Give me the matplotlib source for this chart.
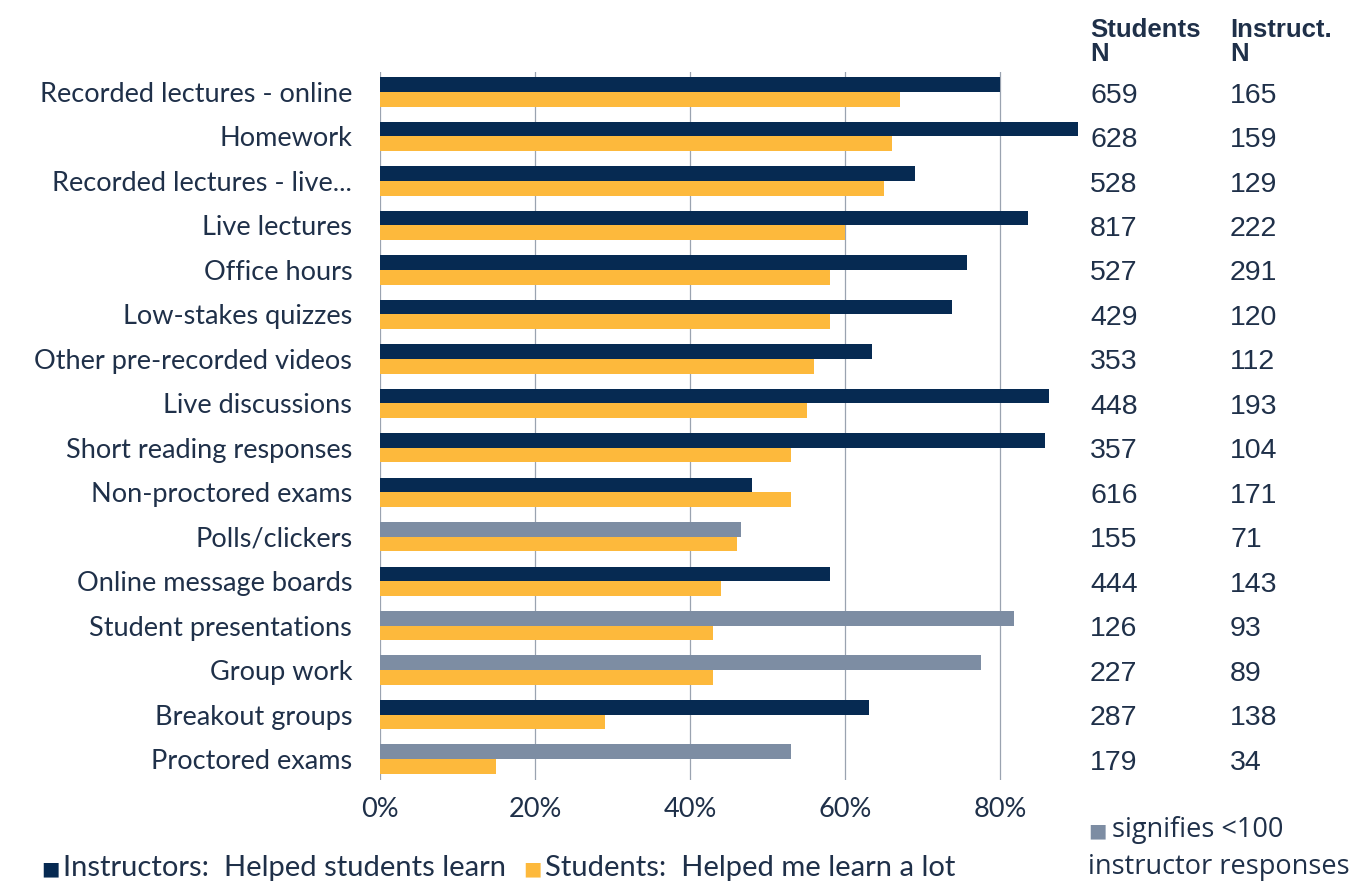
import matplotlib.pyplot as plt
import matplotlib.transforms as mtransforms
import numpy as np

## Teaching methods, ordered by student rating
methods = ["Recorded lectures - online", "Homework", "Recorded lectures - live...",
           "Live lectures", "Office hours", "Low-stakes quizzes",
           "Other pre-recorded videos", "Live discussions", "Short reading responses",
           "Non-proctored exams", "Polls/clickers", "Online message boards",
           "Student presentations", "Group work", "Breakout groups", "Proctored exams"]
instructors = [80, 90, 69, 83.5, 75.7, 73.7, 63.5, 86.3, 85.7, 48, 46.5, 58, 81.8, 77.5, 63, 53]
students = [67, 66, 65, 60, 58, 58, 56, 55, 53, 53, 46, 44, 43, 43, 29, 15]
students_n = [659, 628, 528, 817, 527, 429, 353, 448, 357, 616, 155, 444, 126, 227, 287, 179]
instruct_n = [165, 159, 129, 222, 291, 120, 112, 193, 104, 171, 71, 143, 93, 89, 138, 34]

navy = "#062a52"
gold = "#fdb93c"
grey = "#7d8da3"
txt = "#1f3049"

fig = plt.figure(figsize=(13.57, 8.85), dpi=100)
ax = fig.add_axes([380/1357, 105/885, 698/1357, 708/885])

y = np.arange(len(methods))
inst_colors = [grey if n < 100 else navy for n in instruct_n]
ax.barh(y - 0.165, instructors, height=0.33, color=inst_colors, zorder=3)
ax.barh(y + 0.165, students, height=0.33, color=gold, zorder=3)

ax.set_xlim(0, 90)
ax.set_ylim(15.47, -0.45)
ax.set_xticks([0, 20, 40, 60, 80])
ax.set_xticklabels(["0%", "20%", "40%", "60%", "80%"])
ax.set_yticks(y)
ax.set_yticklabels(methods)
for xv in [0, 20, 40, 60, 80]:
    ax.axvline(xv, color="#9aa3b0", lw=0.9, zorder=1)
for s in ax.spines.values():
    s.set_visible(False)
ax.tick_params(length=0, labelsize=19.5, colors=txt)
ax.tick_params(axis="y", pad=20)
ax.tick_params(axis="x", pad=12)
for lab in ax.get_yticklabels() + ax.get_xticklabels():
    lab.set_family("Lato")

## N columns on the right (x in figure coords, y on the row positions)
col = mtransforms.blended_transform_factory(fig.transFigure, ax.transData)
fig.text(1090/1357, 1 - 42/885, "Students\nN", fontsize=18.5, fontweight="bold",
         color=txt, family="Liberation Sans", va="center", linespacing=1.0)
fig.text(1230/1357, 1 - 42/885, "Instruct.\nN", fontsize=18.5, fontweight="bold",
         color=txt, family="Liberation Sans", va="center", linespacing=1.0)
for i in range(len(methods)):
    ax.text(1090/1357, i + 0.08, str(students_n[i]), transform=col,
            fontsize=20.5, color=txt, family="Liberation Sans", va="center")
    ax.text(1230/1357, i + 0.08, str(instruct_n[i]), transform=col,
            fontsize=20.5, color=txt, family="Liberation Sans", va="center")

## Legend and note along the bottom
fig.text(60/1357, 1 - 869/885, "\u25a0", fontsize=14, color=navy, va="center", ha="right")
fig.text(63/1357, 1 - 868/885, "Instructors:  Helped students learn", fontsize=21,
         color=txt, family="Lato", va="center")
fig.text(542/1357, 1 - 869/885, "\u25a0", fontsize=14, color=gold, va="center", ha="right")
fig.text(545/1357, 1 - 868/885, "Students:  Helped me learn a lot", fontsize=21,
         color=txt, family="Lato", va="center")
fig.text(1088/1357, 1 - 831/885, "\u25a0", fontsize=14, color=grey, va="center")
fig.text(1112/1357, 1 - 830/885, "signifies <100", fontsize=19.5,
         color=txt, family="Open Sans", va="center")
fig.text(1088/1357, 1 - 867/885, "instructor responses", fontsize=19.5,
         color=txt, family="Open Sans", va="center")

fig.savefig("out.png", dpi=100)
